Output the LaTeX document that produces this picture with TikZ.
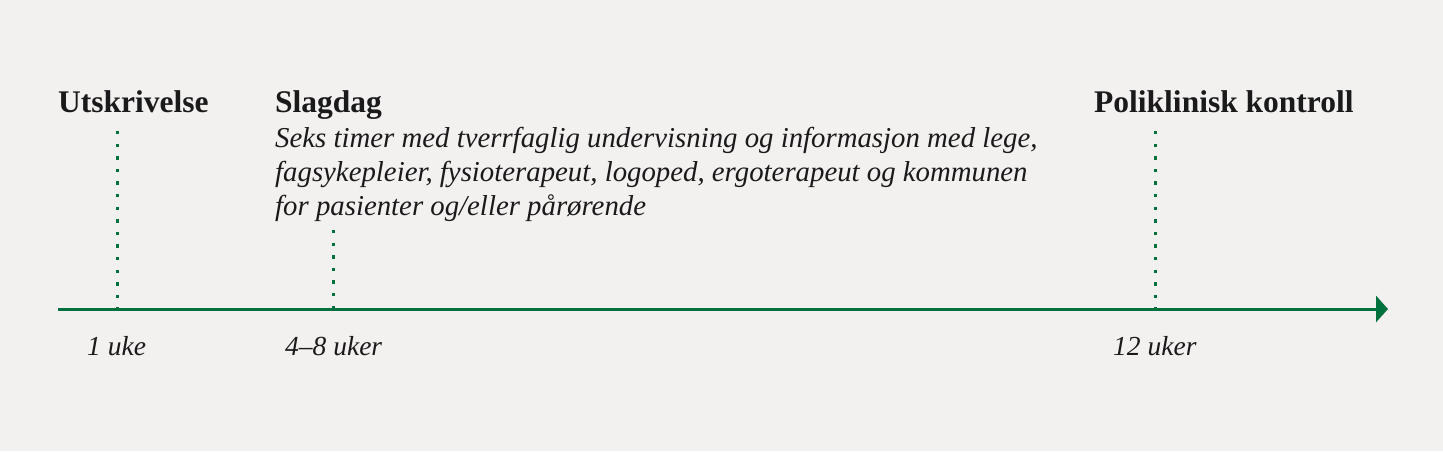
\documentclass[tikz,border=0pt]{standalone}
\usepackage{fontspec}
\setmainfont{Liberation Serif}
\usetikzlibrary{arrows.meta}
\definecolor{bgc}{RGB}{243,240,240}
\definecolor{grn}{RGB}{0,112,60}
\definecolor{txt}{RGB}{26,26,26}
\tikzset{
  head/.style={anchor=base west, inner sep=0pt, text=txt, font=\fontsize{31.5}{34}\selectfont\bfseries},
  body/.style={anchor=base west, inner sep=0pt, text=txt, font=\fontsize{28.8}{34}\selectfont\itshape},
  tick/.style={anchor=base west, inner sep=0pt, text=txt, font=\fontsize{27.5}{34}\selectfont\itshape},
  dotline/.style={grn, line width=3pt, dash pattern=on 3.3pt off 9.3pt},
  axis/.style={grn, line width=3pt, -{Triangle[length=12pt,width=26pt]}}
}
\begin{document}
\begin{tikzpicture}[x=1pt,y=-1pt]
\fill[bgc] (0,0) rectangle (1443,451);
\useasboundingbox (0,0) rectangle (1443,451);
% headings
\node[head] (utsk) at (58,112) {Utskrivelse};
\node[head] (slag) at (275,112) {Slagdag};
\node[head] (poli) at (1094,112) {Poliklinisk kontroll};
% description
\node[body] (d1) at (275,147) {Seks timer med tverrfaglig undervisning og informasjon med lege,};
\node[body] (d2) at (275,181) {fagsykepleier, fysioterapeut, logoped, ergoterapeut og kommunen};
\node[body] (d3) at (275,215) {for pasienter og/eller pårørende};
% axis
\coordinate (a0) at (58,309);
\coordinate (a1) at (1388,309);
\draw[axis] (a0) -- (a1);
% dotted markers
\coordinate (t1) at (117,131);
\coordinate (b1) at (117,309);
\coordinate (t2) at (333,230);
\coordinate (b2) at (333,309);
\coordinate (t3) at (1155,131);
\coordinate (b3) at (1155,309);
\draw[dotline] (t1) -- (b1);
\draw[dotline] (t2) -- (b2);
\draw[dotline] (t3) -- (b3);
% tick labels
\node[tick] (l1) at (87,355) {1 uke};
\node[tick] (l2) at (285,355) {4–8 uker};
\node[tick] (l3) at (1113,355) {12 uker};
\end{tikzpicture}
\end{document}
